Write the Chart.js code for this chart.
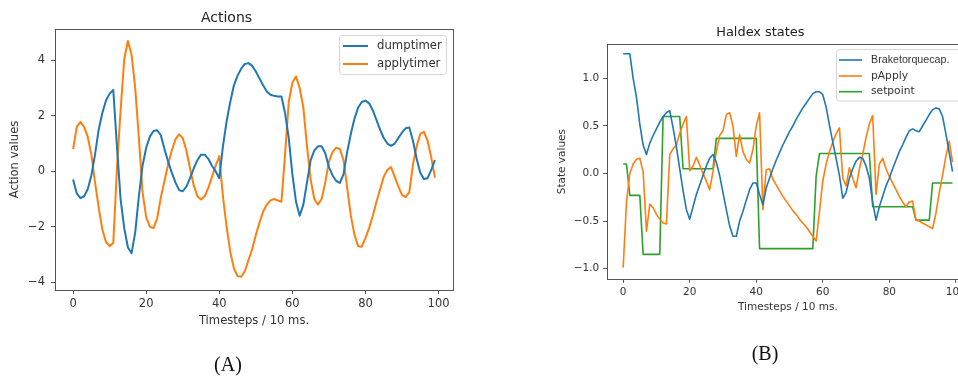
<!DOCTYPE html>
<html>
<head>
<meta charset="utf-8">
<script src="https://cdn.jsdelivr.net/npm/chart.js@4.4.0/dist/chart.umd.min.js"></script>
<style>
  html, body { margin: 0; padding: 0; background: #fff; width: 958px; height: 376px; overflow: hidden; }
  canvas { position: absolute; top: 0; }
  #chartA { left: 0; }
  #chartB { left: 480px; }
  .cap { position: absolute; font-family: 'Liberation Serif', serif; font-size: 20px; color: #111; transform: translate(-50%, -50%); }
</style>
</head>
<body>
<canvas id="chartA" width="480" height="376"></canvas>
<canvas id="chartB" width="500" height="376"></canvas>
<div class="cap" style="left:228px; top:364px">(A)</div>
<div class="cap" style="left:765px; top:353px">(B)</div>
<script>
// timesteps 0..99
const steps = Array.from({ length: 100 }, (_, i) => i);

// (A) Actions
const dumptimer = [
  -0.3, -0.8, -0.97, -0.9, -0.65, -0.15, 0.6, 1.5, 2.1, 2.55,
  2.8, 2.93, 0.9, -1.0, -2.05, -2.75, -2.95, -2.2, -0.9, 0.2,
  0.85, 1.25, 1.45, 1.48, 1.3, 0.8, 0.35, -0.05, -0.4, -0.68,
  -0.72, -0.55, -0.25, 0.1, 0.4, 0.6, 0.6, 0.45, 0.2, 0.0,
  -0.25, 0.9, 1.8, 2.5, 3.1, 3.45, 3.7, 3.87, 3.9, 3.8,
  3.6, 3.35, 3.1, 2.88, 2.76, 2.72, 2.7, 2.7, 2.1, 1.2,
  -0.1, -1.1, -1.6, -1.2, -0.4, 0.4, 0.75, 0.9, 0.9, 0.65,
  0.15, -0.15, -0.35, -0.42, -0.1, 0.7, 1.35, 1.9, 2.3, 2.5,
  2.55, 2.45, 2.2, 1.85, 1.5, 1.2, 1.0, 0.92, 1.0, 1.2,
  1.4, 1.55, 1.58, 1.1, 0.45, -0.05, -0.28, -0.25, 0.05, 0.4
];
const applytimer = [
  0.8, 1.6, 1.78, 1.6, 1.25, 0.6, -0.4, -1.3, -2.1, -2.55,
  -2.7, -2.58, 0.1, 2.2, 4.05, 4.7, 4.2, 3.0, 1.2, -0.75,
  -1.65, -2.0, -2.05, -1.7, -0.95, -0.35, 0.25, 0.75, 1.15, 1.33,
  1.2, 0.75, 0.1, -0.5, -0.9, -1.02, -0.9, -0.6, -0.2, 0.2,
  0.55, -0.9, -2.0, -2.9, -3.5, -3.78, -3.8, -3.6, -3.2, -2.8,
  -2.3, -1.85, -1.45, -1.2, -1.05, -1.0, -1.05, -1.1, 0.6, 2.5,
  3.2, 3.42, 3.0, 2.3, 0.9, -0.3, -1.0, -1.2, -1.0, -0.4,
  0.35, 0.7, 0.85, 0.8, 0.4, -0.6, -1.6, -2.3, -2.7, -2.72,
  -2.4, -2.05, -1.6, -1.1, -0.65, -0.2, 0.05, 0.15, -0.2, -0.55,
  -0.85, -0.93, -0.75, 0.25, 0.9, 1.35, 1.42, 1.1, 0.5, -0.23
];
const xTicksA = [0, 20, 40, 60, 80, 100];
const yTicksA = [-4, -2, 0, 2, 4];

// (B) Haldex states
const brakeTorque = [
  1.26, 1.26, 1.26, 1.0, 0.8, 0.52, 0.3, 0.2, 0.32, 0.4,
  0.47, 0.54, 0.6, 0.64, 0.66, 0.48, 0.28, 0.05, -0.18, -0.38,
  -0.48, -0.35, -0.22, -0.12, -0.02, 0.08, 0.16, 0.2, 0.12, -0.02,
  -0.2, -0.38, -0.55, -0.66, -0.66, -0.5, -0.4, -0.28, -0.17, -0.1,
  -0.1, -0.22, -0.33, -0.15, -0.05, 0.05, 0.14, 0.22, 0.3, 0.37,
  0.44, 0.5, 0.57, 0.63, 0.69, 0.74, 0.79, 0.84, 0.86, 0.86,
  0.83, 0.7, 0.51, 0.33, 0.16, -0.02, -0.26, -0.2, -0.05, 0.05,
  0.13, 0.17, 0.16, 0.08, -0.05, -0.3, -0.49, -0.35, -0.24, -0.13,
  -0.05, 0.05, 0.14, 0.23, 0.3, 0.38, 0.45, 0.47, 0.45, 0.44,
  0.5, 0.56, 0.62, 0.67, 0.69, 0.68, 0.6, 0.42, 0.22, 0.02
];
const pApply = [
  -0.99, -0.3, 0.0, 0.1, 0.15, 0.16, 0.02, -0.61, -0.32, -0.36,
  -0.43, -0.48, -0.52, -0.53, 0.2, 0.26, 0.3, 0.42, 0.52, 0.6,
  0.03, 0.08, 0.17, 0.09, 0.0, -0.08, -0.17, 0.02, 0.23, 0.4,
  0.45, 0.62, 0.64, 0.5, 0.18, 0.41, 0.23, 0.15, 0.11, 0.25,
  0.5, 0.64, -0.38, 0.04, 0.05, -0.06, -0.12, -0.18, -0.24, -0.29,
  -0.34, -0.39, -0.43, -0.48, -0.52, -0.56, -0.61, -0.66, -0.71, -0.4,
  -0.08, 0.1, 0.23, 0.33, 0.42, 0.48, -0.05, -0.13, 0.06, -0.05,
  -0.15, 0.05, 0.2, 0.38, 0.52, 0.61, -0.22, 0.1, 0.16, 0.05,
  -0.03, -0.1, -0.17, -0.24, -0.3, -0.35, -0.3, -0.29, -0.49, -0.5,
  -0.52, -0.54, -0.56, -0.58, -0.42, -0.2, -0.02, 0.18, 0.34, 0.12
];
const setpoint = [
  0.1, 0.1, -0.23, -0.23, -0.23, -0.23, -0.85, -0.85, -0.85, -0.85,
  -0.85, -0.85, 0.6, 0.6, 0.6, 0.6, 0.6, 0.6, 0.05, 0.05,
  0.05, 0.05, 0.05, 0.05, 0.05, 0.05, 0.05, 0.05, 0.37, 0.37,
  0.37, 0.37, 0.37, 0.37, 0.37, 0.37, 0.37, 0.37, 0.37, 0.37,
  0.37, -0.79, -0.79, -0.79, -0.79, -0.79, -0.79, -0.79, -0.79, -0.79,
  -0.79, -0.79, -0.79, -0.79, -0.79, -0.79, -0.79, -0.79, -0.03, 0.21,
  0.21, 0.21, 0.21, 0.21, 0.21, 0.21, 0.21, 0.21, 0.21, 0.21,
  0.21, 0.21, 0.21, 0.21, 0.21, -0.35, -0.35, -0.35, -0.35, -0.35,
  -0.35, -0.35, -0.35, -0.35, -0.35, -0.35, -0.35, -0.35, -0.49, -0.49,
  -0.49, -0.49, -0.49, -0.1, -0.1, -0.1, -0.1, -0.1, -0.1, -0.1
];
const xTicksB = [0, 20, 40, 60, 80, 100];
const yTicksB = [-1.0, -0.5, 0.0, 0.5, 1.0];

const BLUE = '#1f77b4', ORANGE = '#ff7f0e', GREEN = '#2ca02c';
const FONT = "'DejaVu Sans', sans-serif";

Chart.defaults.color = '#333';
Chart.defaults.font.family = FONT;

const fmt = d => v => (v < 0 ? '\u2212' : '') + Math.abs(v).toFixed(d);

// matplotlib-like frame around the plot area
const framePlugin = {
  id: 'frame',
  afterDraw(chart) {
    const { ctx, chartArea: a } = chart;
    ctx.save();
    ctx.strokeStyle = '#555';
    ctx.lineWidth = 1;
    ctx.strokeRect(Math.round(a.left) + 0.5, Math.round(a.top) + 0.5,
      Math.round(a.right - a.left), Math.round(a.bottom - a.top));
    ctx.restore();
  }
};

// legend box inside the plot, like matplotlib's
const boxLegend = {
  id: 'boxLegend',
  afterDraw(chart, args, o) {
    const ctx = chart.ctx;
    ctx.save();
    ctx.beginPath();
    ctx.roundRect(o.x, o.y, o.w, o.h, 3);
    ctx.fillStyle = 'rgba(255,255,255,0.85)';
    ctx.fill();
    ctx.strokeStyle = '#d6d6d6';
    ctx.lineWidth = 1;
    ctx.stroke();
    chart.data.datasets.forEach((ds, i) => {
      const y = o.rows[i];
      ctx.strokeStyle = ds.borderColor;
      ctx.lineWidth = ds.borderWidth;
      ctx.beginPath();
      ctx.moveTo(o.lineX[0], y);
      ctx.lineTo(o.lineX[1], y);
      ctx.stroke();
      ctx.fillStyle = '#333';
      ctx.font = (o.fonts && o.fonts[i]) || o.font;
      ctx.textBaseline = 'middle';
      ctx.fillText(ds.label, o.textX, y);
    });
    ctx.restore();
  }
};

function line(label, data, color, width) {
  return { label, data, borderColor: color, backgroundColor: color, borderWidth: width,
           pointRadius: 0, tension: 0, fill: false, borderJoinStyle: 'round' };
}

function axis(o) {
  return {
    type: 'linear',
    min: o.min, max: o.max,
    afterBuildTicks: s => { s.ticks = o.ticks.map(v => ({ value: v })); },
    afterFit: s => { if (o.width) s.width = o.width; if (o.height) s.height = o.height; },
    grid: { display: true, drawOnChartArea: false, drawTicks: true, tickLength: o.tickLength, tickColor: '#555' },
    border: { display: false },
    ticks: { font: { size: o.tickSize }, padding: o.pad, color: '#333', callback: o.format, maxRotation: 0 },
    title: { display: true, text: o.title, font: { size: o.titleSize }, color: '#333', padding: o.titlePad }
  };
}

new Chart(document.getElementById('chartA'), {
  type: 'line',
  data: {
    labels: steps,
    datasets: [
      line('dumptimer', dumptimer, BLUE, 2),
      line('applytimer', applytimer, ORANGE, 2)
    ]
  },
  options: {
    responsive: false,
    animation: false,
    layout: { padding: { left: 0, right: 27, top: 0, bottom: 46 } },
    plugins: {
      legend: { display: false },
      tooltip: { enabled: false },
      title: { display: true, text: 'Actions', font: { size: 14, weight: 'normal' }, color: '#222',
               padding: { top: 9.6, bottom: 2.6 } },
      boxLegend: { x: 339.5, y: 35.5, w: 107, h: 39, rows: [46, 64], lineX: [343, 368], textX: 377,
                   font: "11.7px 'DejaVu Sans'" }
    },
    scales: {
      x: axis({ min: -4.95, max: 103.95, ticks: xTicksA, height: 40, tickLength: 4, pad: 3.5, tickSize: 11.5,
                format: fmt(0), title: 'Timesteps / 10 ms.', titleSize: 11.6, titlePad: { top: 0, bottom: 2 } }),
      y: axis({ min: -4.28, max: 5.13, ticks: yTicksA, width: 55, tickLength: 4, pad: 6, tickSize: 11.5,
                format: fmt(0), title: 'Action values', titleSize: 11.6, titlePad: { top: 8, bottom: 0 } })
    }
  },
  plugins: [framePlugin, boxLegend]
});

new Chart(document.getElementById('chartB'), {
  type: 'line',
  data: {
    labels: steps,
    datasets: [
      line('Braketorquecap.', brakeTorque, BLUE, 1.6),
      line('pApply', pApply, ORANGE, 1.6),
      line('setpoint', setpoint, GREEN, 1.6)
    ]
  },
  options: {
    responsive: false,
    animation: false,
    layout: { padding: { left: 71.7, right: 11, top: 0, bottom: 60.7 } },
    plugins: {
      legend: { display: false },
      tooltip: { enabled: false },
      title: { display: true, text: 'Haldex states', font: { size: 12.9, weight: 'normal' }, color: '#222',
               padding: { top: 25.2, bottom: 3.3 } },
      boxLegend: { x: 356.5, y: 49.5, w: 128, h: 51.5, rows: [60, 76, 91.7], lineX: [359, 382], textX: 391,
                   font: "10.7px 'DejaVu Sans'", fonts: ["10.7px 'Liberation Sans'"] }
    },
    scales: {
      x: axis({ min: -4.95, max: 103.95, ticks: xTicksB, height: 36, tickLength: 3.5, pad: 3, tickSize: 10.5,
                format: fmt(0), title: 'Timesteps / 10 ms.', titleSize: 10.5, titlePad: { top: 0, bottom: 1.7 } }),
      y: axis({ min: -1.1125, max: 1.3625, ticks: yTicksB, width: 55, tickLength: 3.5, pad: 4, tickSize: 10.5,
                format: fmt(1), title: 'State values', titleSize: 10.5, titlePad: { top: 3.8, bottom: 0 } })
    }
  },
  plugins: [framePlugin, boxLegend]
});
</script>
</body>
</html>
